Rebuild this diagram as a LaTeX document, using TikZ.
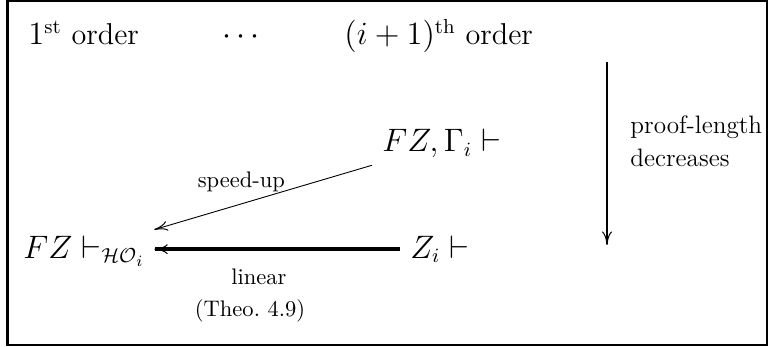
\documentclass[tikz,border=0pt]{standalone}
\usetikzlibrary{arrows.meta}
\begin{document}
\begin{tikzpicture}[x=0.444pt,y=-0.444pt,
  main/.style={inner sep=0pt, font=\fontsize{13.4}{16}\selectfont},
  lab/.style={inner sep=0pt, font=\fontsize{10}{12}\selectfont},
  biglab/.style={inner sep=0pt, font=\fontsize{11.2}{13}\selectfont},
  tip/.style={-{To[length=6pt, width=4.4pt, line width=0.45pt]}},
  thinarr/.style={tip, line width=0.4pt},
  thickarr/.style={tip, line width=1.7pt},
  vertarr/.style={tip, line width=0.9pt}]
\useasboundingbox (0,0) rectangle (769,347);
\draw[line width=0.9pt] (7.5,1) rectangle (767,345);
% top row
\node[main, anchor=base west] (o1) at (28,45) {$1^{\mathrm{st}}$ order};
\node[main, anchor=base] (dots) at (241,45) {$\cdots$};
\node[main, anchor=base west] (oi) at (344,45) {$(i+1)^{\mathrm{th}}$ order};
% formulas
\node[main, anchor=base west] (fzg) at (382,152) {$FZ,\Gamma_i\vdash$};
\node[main, anchor=base west] (fzh) at (23,258) {$FZ\vdash_{\mathcal{HO}_i}$};
\node[main, anchor=base west] (zi) at (410,258) {$Z_i\vdash$};
% arrows
\draw[thinarr] ([shift={(-10,6.5)}]fzg.south west) -- ([shift={(9,-5.4)}]fzh.north east)
  node[lab, pos=0.6, anchor=base, yshift=7.3pt] (su) {speed-up};
\draw[thickarr] ([shift={(-10,0)}]zi.west) -- ([shift={(9,0)}]zi.west -| fzh.east);
\node[lab, anchor=base] (lin) at (259,284) {linear};
\node[lab, anchor=base] (theo) at (250,316) {(Theo.\ 4.9)};
% vertical arrow
\coordinate (vt) at (607,62);
\coordinate (vb) at (607,245);
\draw[vertarr] (vt) -- (vb);
\node[biglab, anchor=base west] (pl1) at (630,134) {proof-length};
\node[biglab, anchor=base west] (pl2) at (630,167) {decreases};
\end{tikzpicture}
\end{document}
